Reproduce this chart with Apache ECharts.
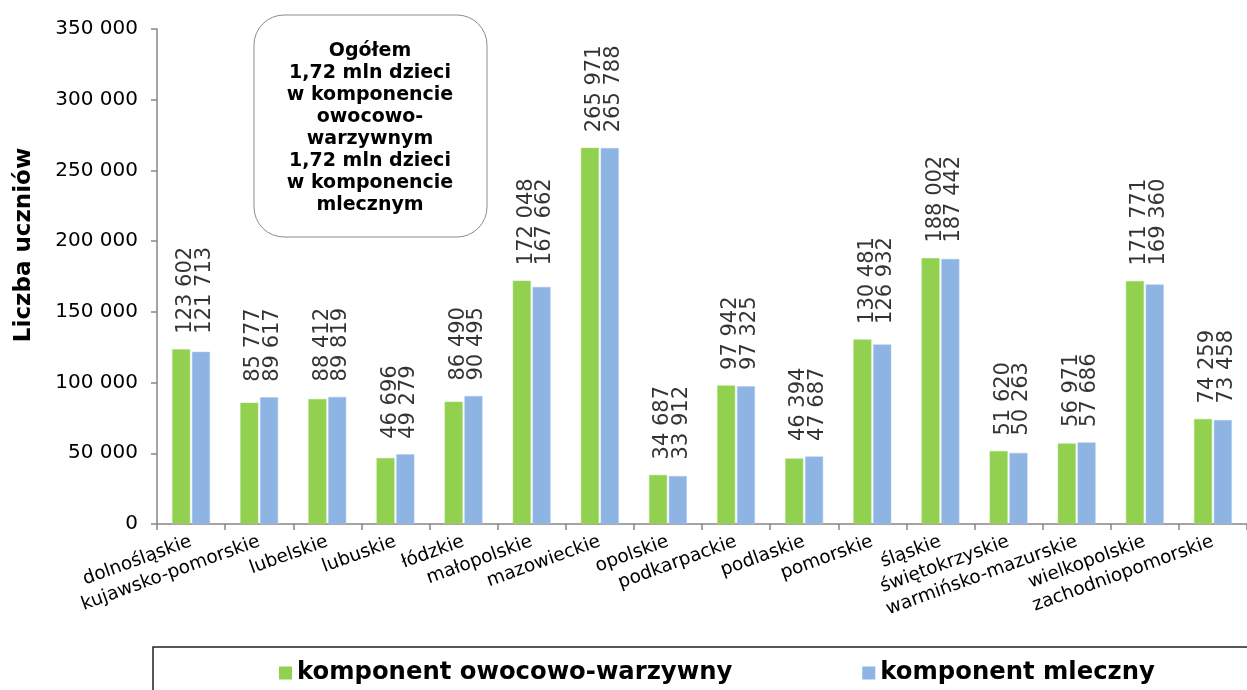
<!DOCTYPE html>
<html>
<head>
<meta charset="utf-8">
<script src="https://cdn.jsdelivr.net/npm/echarts@6/dist/echarts.min.js"></script>
<style>
html,body{margin:0;padding:0;background:#fff;}
#chart{width:1247px;height:690px;}
</style>
</head>
<body>
<div id="chart"></div>
<script>
var categories = ['dolnośląskie','kujawsko-pomorskie','lubelskie','lubuskie','łódzkie','małopolskie','mazowieckie','opolskie','podkarpackie','podlaskie','pomorskie','śląskie','świętokrzyskie','warmińsko-mazurskie','wielkopolskie','zachodniopomorskie'];
var owocowoWarzywny = [123602, 85777, 88412, 46696, 86490, 172048, 265971, 34687, 97942, 46394, 130481, 188002, 51620, 56971, 171771, 74259];
var mleczny = [121713, 89617, 89819, 49279, 90495, 167662, 265788, 33912, 97325, 47687, 126932, 187442, 50263, 57686, 169360, 73458];
var seriesNames = ['komponent owocowo-warzywny', 'komponent mleczny'];
var yTicks = [0, 50000, 100000, 150000, 200000, 250000, 300000, 350000];
var noteLines = ['Ogółem', '1,72 mln dzieci', 'w komponencie', 'owocowo-', 'warzywnym', '1,72 mln dzieci', 'w komponencie', 'mlecznym'];
var yAxisTitle = 'Liczba uczniów';

function fmt(v) { return String(v).replace(/\B(?=(\d{3})+(?!\d))/g, ' '); }
var labelAnchor = categories.map(function (c, i) { return Math.max(owocowoWarzywny[i], mleczny[i]); });

var FONT = '"DejaVu Sans", Verdana, sans-serif';
var chart = echarts.init(document.getElementById('chart'));
chart.setOption({
  animation: false,
  backgroundColor: '#fff',
  grid: { left: 157, right: -6, top: 29, bottom: 166, containLabel: false },
  xAxis: {
    type: 'category',
    data: categories,
    axisLine: { lineStyle: { color: '#868686', width: 1.5 } },
    axisTick: { show: true, length: 6, lineStyle: { color: '#868686', width: 1.5 } },
    axisLabel: { interval: 0, rotate: 20, margin: 17, fontSize: 18.5, color: '#000', fontFamily: FONT }
  },
  yAxis: {
    type: 'value',
    min: yTicks[0],
    max: yTicks[yTicks.length - 1],
    interval: 50000,
    splitLine: { show: false },
    axisLine: { show: true, lineStyle: { color: '#868686', width: 1.5 } },
    axisTick: { show: true, length: 6, lineStyle: { color: '#868686', width: 1.5 } },
    axisLabel: { margin: 19, fontSize: 20, color: '#000', fontFamily: FONT, formatter: function (v) { return fmt(v); } }
  },
  legend: {
    data: seriesNames,
    left: 279,
    top: 661,
    padding: 0,
    itemWidth: 13,
    itemHeight: 13,
    itemGap: 130,
    icon: 'rect',
    itemStyle: { borderWidth: 0 },
    textStyle: { fontSize: 24.3, fontWeight: 'bold', color: '#000', fontFamily: FONT }
  },
  series: [
    {
      name: seriesNames[0], type: 'bar', data: owocowoWarzywny, barWidth: 18, barGap: '10%',
      itemStyle: { color: '#92D050', borderColor: '#A6DA74', borderWidth: 0.5 }
    },
    {
      name: seriesNames[1], type: 'bar', data: mleczny, barWidth: 18, barGap: '10%',
      itemStyle: { color: '#8EB4E3', borderColor: '#A9C6EA', borderWidth: 0.5 }
    },
    {
      name: 'labels', type: 'scatter', data: labelAnchor, symbolSize: 1,
      itemStyle: { color: 'rgba(0,0,0,0)' }, silent: true,
      label: {
        show: true, position: 'top', distance: 15, rotate: 90, offset: [0, 4],
        align: 'left', verticalAlign: 'middle',
        fontSize: 21, lineHeight: 18.5, color: '#000', fontFamily: FONT,
        formatter: function (p) { return fmt(owocowoWarzywny[p.dataIndex]) + '\n' + fmt(mleczny[p.dataIndex]); }
      }
    }
  ],
  graphic: [
    {
      type: 'text', x: 24, y: 245, rotation: Math.PI / 2,
      style: { text: yAxisTitle, font: 'bold 23px ' + FONT, fill: '#000', textAlign: 'center', textVerticalAlign: 'middle' }
    },
    {
      type: 'rect', shape: { x: 254, y: 15, width: 233, height: 222, r: 30 },
      style: { fill: '#fff', stroke: '#8c8c8c', lineWidth: 1 }
    },
    {
      type: 'text', x: 370, y: 128,
      style: { text: noteLines.join('\n'), font: 'bold 19px ' + FONT, lineHeight: 22, fill: '#000', textAlign: 'center', textVerticalAlign: 'middle' }
    },
    {
      type: 'rect', shape: { x: 153, y: 647, width: 1200, height: 100 },
      style: { fill: 'none', stroke: '#222', lineWidth: 1.5 }, z: -1
    }
  ]
});
</script>
</body>
</html>
